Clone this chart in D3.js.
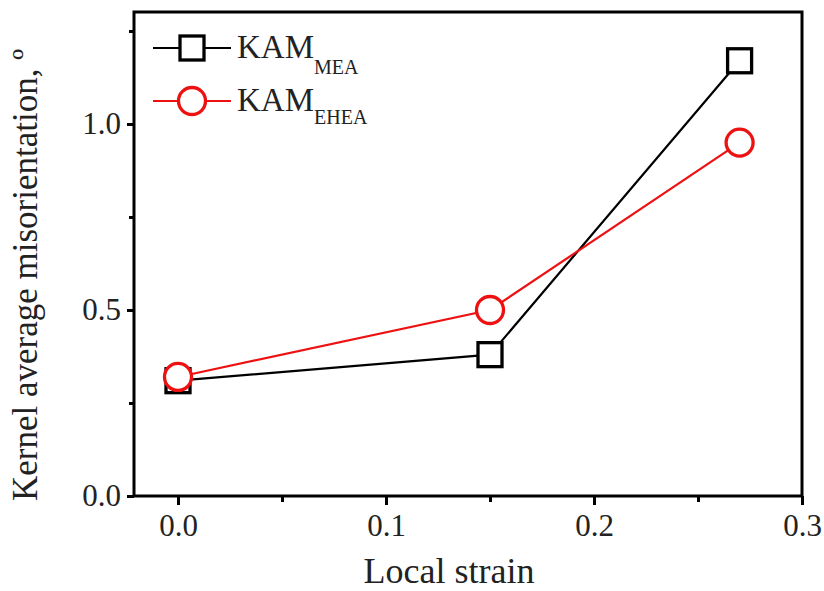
<!DOCTYPE html>
<html><head><meta charset="utf-8">
<script src="https://cdn.jsdelivr.net/npm/d3@7"></script>
<style>body{margin:0;background:#fff}svg{display:block}text{font-family:"Liberation Serif","Times New Roman",serif;fill:#222}</style>
</head><body><svg id="c" width="824" height="591"></svg>
<script>
const strain = [0, 0.15, 0.27];
const kamMEA = [0.31, 0.38, 1.17];
const kamEHEA = [0.32, 0.50, 0.95];
const xTicks = [0.0, 0.1, 0.2, 0.3];
const yTicks = [0.0, 0.5, 1.0];
const seriesNames = ["MEA", "EHEA"];
const seriesColors = ["#000000", "#ee1111"];

const svg = d3.select("#c");
const L = 134, R = 802, T = 12, B = 496;
const x = d3.scaleLinear().domain([-0.02, 0.3]).range([136.4, 802]);
const y = d3.scaleLinear().domain([0, 1.3]).range([496, 12.4]);

// frame
svg.append("rect").attr("x", L).attr("y", T).attr("width", R - L).attr("height", B - T)
  .attr("fill", "none").attr("stroke", "#000").attr("stroke-width", 3);

// x axis ticks
const xa = svg.append("g").attr("transform", `translate(0,${B})`);
xa.call(d3.axisBottom(x).tickValues(xTicks).tickSize(9).tickPadding(9).tickFormat(d3.format(".1f")));
xa.select(".domain").remove();
xa.selectAll(".tick line").attr("stroke-width", 3);
xa.selectAll(".tick text").attr("font-size", 31).attr("font-family", "Liberation Serif").attr("fill", "#222");
const xm = svg.append("g").attr("transform", `translate(0,${B})`);
xm.call(d3.axisBottom(x).tickValues([0.05, 0.15, 0.25]).tickSize(6).tickFormat(""));
xm.select(".domain").remove();
xm.selectAll(".tick line").attr("stroke-width", 3);

// y axis ticks
const ya = svg.append("g").attr("transform", `translate(${L},0)`);
ya.call(d3.axisLeft(y).tickValues(yTicks).tickSize(7).tickPadding(6).tickFormat(d3.format(".1f")));
ya.select(".domain").remove();
ya.selectAll(".tick line").attr("stroke-width", 3);
ya.selectAll(".tick text").attr("font-size", 31).attr("font-family", "Liberation Serif").attr("fill", "#222");
const ym = svg.append("g").attr("transform", `translate(${L},0)`);
ym.call(d3.axisLeft(y).tickValues([0.25, 0.75, 1.25]).tickSize(5).tickFormat(""));
ym.select(".domain").remove();
ym.selectAll(".tick line").attr("stroke-width", 3);

// axis titles
svg.append("text").attr("x", 449).attr("y", 583).attr("text-anchor", "middle")
  .attr("font-size", 36).text("Local strain");
svg.append("text").attr("transform", "translate(37,275) rotate(-90)").attr("text-anchor", "middle")
  .attr("font-size", 35).text("Kernel average misorientation, º");

const line = d3.line().x((d, i) => x(strain[i])).y(d => y(d));
const data = [kamMEA, kamEHEA];

// lines
data.forEach((s, k) => {
  svg.append("path").datum(s).attr("d", line).attr("fill", "none")
    .attr("stroke", seriesColors[k]).attr("stroke-width", 2.2);
});

// markers
function square(g, cx, cy) {
  g.append("rect").attr("x", cx - 12).attr("y", cy - 12).attr("width", 24).attr("height", 24)
    .attr("fill", "#fff").attr("stroke", "#000").attr("stroke-width", 3.3);
}
function circle(g, cx, cy) {
  g.append("circle").attr("cx", cx).attr("cy", cy).attr("r", 13.5)
    .attr("fill", "#fff").attr("stroke", seriesColors[1]).attr("stroke-width", 3.3);
}
kamMEA.forEach((v, i) => square(svg, x(strain[i]), y(v)));
kamEHEA.forEach((v, i) => circle(svg, x(strain[i]), y(v)));

// legend
const legY = [48, 101];
const subDy = [16, 13];
seriesNames.forEach((n, k) => {
  svg.append("line").attr("x1", 153).attr("x2", 231).attr("y1", legY[k]).attr("y2", legY[k])
    .attr("stroke", seriesColors[k]).attr("stroke-width", 2.2);
  if (k === 0) square(svg, 192, legY[k]); else circle(svg, 192, legY[k]);
  const t = svg.append("text").attr("x", 237).attr("y", legY[k] + 10).attr("font-size", 33);
  t.append("tspan").text("KAM");
  t.append("tspan").attr("font-size", 20).attr("dy", subDy[k]).text(n);
});
</script></body></html>
